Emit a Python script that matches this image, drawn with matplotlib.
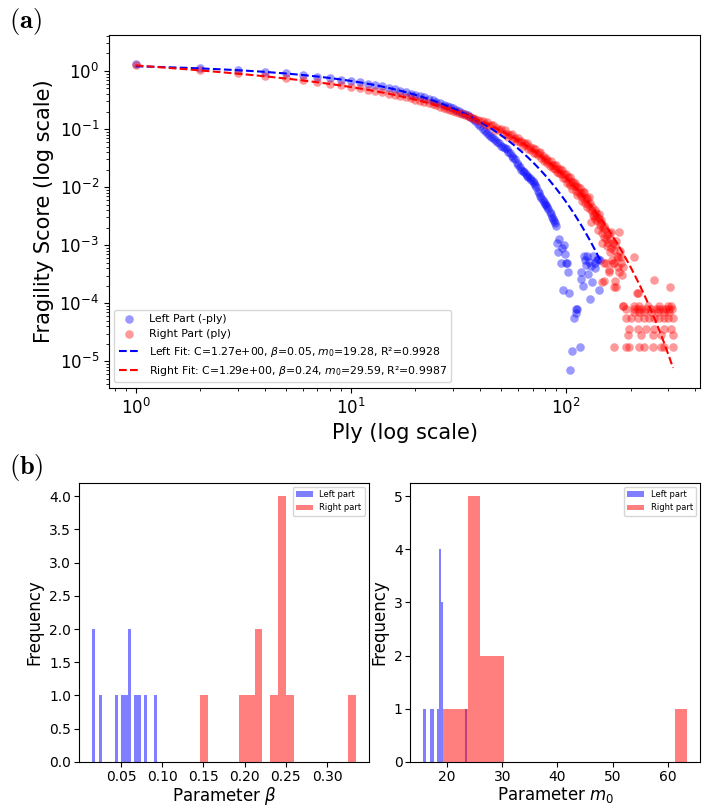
import numpy as np
import matplotlib
matplotlib.use("Agg")
import matplotlib.pyplot as plt

# ---------------- panel (a) data ----------------
# Left part (-ply): integer plies 1..90 (smooth part)
left_ply_main = np.arange(1, 91)
left_score_main = [
    1.30, 1.11, 1.03, 0.965, 0.905, 0.852, 0.800, 0.757, 0.712, 0.675,
    0.636, 0.603, 0.568, 0.540, 0.508, 0.483, 0.455, 0.433, 0.408, 0.389,
    0.366, 0.349, 0.328, 0.313, 0.294, 0.281, 0.264, 0.252, 0.237, 0.226,
    0.213, 0.203, 0.191, 0.181, 0.171, 0.162, 0.148, 0.135, 0.120, 0.112,
    0.102, 0.093, 0.085, 0.079, 0.072, 0.069, 0.065, 0.060, 0.058, 0.052,
    0.050, 0.047, 0.045, 0.041, 0.039, 0.035, 0.032, 0.030, 0.026, 0.024,
    0.022, 0.020, 0.019, 0.018, 0.0166, 0.0158, 0.0151, 0.0141, 0.0135, 0.0126,
    0.0120, 0.0110, 0.0100, 0.0087, 0.0078, 0.0069, 0.0065, 0.0060, 0.0056, 0.0052,
    0.0049, 0.0046, 0.0042, 0.0038, 0.0034, 0.0031, 0.0028, 0.0026, 0.0024, 0.0021,
]
# Left part tail (scattered)
left_ply_tail = [91, 92, 93, 95, 96, 97, 98, 99, 100, 101, 102, 103, 104, 107,
                 109, 111, 112, 113, 116, 117, 118, 120, 121, 123, 124, 126, 127,
                 128, 130, 131, 132, 134, 136, 137, 139, 141, 142, 144]
left_score_tail = [1.1e-3, 7.5e-4, 1.3e-3, 5.0e-4, 9.1e-4, 1.7e-4, 1.0e-3, 7.0e-4,
                   5.0e-4, 5.0e-4, 3.4e-4, 1.5e-4, 7.0e-6, 1.5e-5, 5.5e-5, 8.1e-5,
                   6.9e-5, 7.9e-5, 1.8e-5, 3.4e-4, 2.6e-4, 1.95e-4, 6.4e-4, 5.6e-4,
                   4.6e-4, 6.6e-4, 3.2e-4, 5.2e-4, 1.2e-4, 4.3e-4, 2.3e-4, 6.4e-4,
                   5.0e-4, 4.0e-4, 5.6e-4, 5.9e-4, 1.7e-4, 5.5e-4]

# Right part (ply): integer plies 1..130
right_ply_main = np.arange(1, 131)
right_score_main = [
    1.27, 1.04, 0.91, 0.82, 0.76, 0.70, 0.65, 0.605, 0.57, 0.535,
    0.505, 0.478, 0.452, 0.430, 0.408, 0.388, 0.370, 0.352, 0.336, 0.320,
    0.305, 0.292, 0.279, 0.267, 0.255, 0.244, 0.234, 0.224, 0.215, 0.206,
    0.197, 0.190, 0.182, 0.175, 0.168, 0.161, 0.155, 0.149, 0.143, 0.137,
    0.139, 0.124, 0.131, 0.112, 0.116, 0.119, 0.0975, 0.105, 0.0946, 0.0998,
    0.0855, 0.0946, 0.0830, 0.0728, 0.0804, 0.0830, 0.0679, 0.0702, 0.0615, 0.0697,
    0.0598, 0.0632, 0.0506, 0.0573, 0.0527, 0.0570, 0.0456, 0.0493, 0.0433, 0.0468,
    0.0384, 0.0455, 0.0391, 0.0352, 0.0380, 0.0402, 0.0322, 0.0348, 0.0279, 0.0309,
    0.0319, 0.0262, 0.0283, 0.0227, 0.0282, 0.0242, 0.0213, 0.0241, 0.0207, 0.0240,
    0.0179, 0.0203, 0.0175, 0.0203, 0.0170, 0.0197, 0.0141, 0.0167, 0.0144, 0.0167,
    0.0119, 0.0148, 0.0122, 0.0151, 0.0108, 0.0126, 0.0094, 0.0122, 0.0105, 0.0119,
    0.0085, 0.0104, 0.0074, 0.0101, 0.0079, 0.0098, 0.0070, 0.0080, 0.0058, 0.0081,
    0.0062, 0.0081, 0.0054, 0.0066, 0.0045, 0.0064, 0.0051, 0.0067, 0.0042, 0.0054,
]
# Right part, scattered region
right_ply_tail = [131, 132, 133, 134, 135, 136, 137, 138, 139, 140, 141, 142, 143, 144,
                  145, 146, 147, 148, 148, 149, 150, 150, 150, 151, 152, 153, 154, 155,
                  156, 157, 158, 158, 159, 160, 161, 162, 163, 164, 165, 166, 167, 167,
                  168, 169, 170, 171, 172, 173, 174, 175, 176, 177, 178, 180, 180, 182,
                  184, 185, 208, 214, 217, 257, 305,
                  # low rows
                  184, 208, 219, 241, 272, 299, 309,
                  190, 208, 217, 224, 236, 249, 263, 272, 283, 293, 302, 312,
                  208, 219, 231, 249, 269, 286, 302,
                  190, 201, 217, 231, 244, 257, 272, 286, 299, 315,
                  197, 217, 236, 257, 286, 309,
                  195, 224, 255, 277, 315,
                  167, 190, 197, 219, 231, 255, 277, 286, 315]
right_score_tail = [2.5e-3, 3.9e-3, 4.6e-3, 3.3e-3, 3.2e-3, 4.1e-3, 2.8e-3, 3.6e-3,
                    2.6e-3, 3.0e-3, 1.85e-3, 3.4e-3, 2.9e-3, 2.2e-3, 2.7e-3, 2.4e-3,
                    1.6e-3, 1.1e-3, 2.3e-4, 2.0e-3, 2.1e-3, 5.0e-4, 2.4e-4, 1.4e-3,
                    1.9e-3, 5.0e-4, 1.3e-3, 1.5e-3, 9.5e-4, 1.1e-3, 1.65e-3, 3.7e-4,
                    3.5e-4, 1.3e-3, 7.5e-4, 1.7e-3, 9.0e-4, 5.5e-4, 1.1e-3, 5.0e-4,
                    1.9e-4, 5.0e-4, 8.3e-4, 1.0e-3, 2.4e-4, 1.9e-4, 1.2e-3, 6.5e-4,
                    4.2e-4, 6.3e-4, 3.5e-4, 1.7e-3, 8.0e-4, 6.3e-4, 5.0e-4, 3.1e-4,
                    9.1e-5, 4.2e-4, 6.3e-4, 1.5e-4, 1.5e-4, 2.5e-4, 1.9e-4,
                    8.8e-5, 8.8e-5, 8.8e-5, 8.8e-5, 8.8e-5, 8.8e-5, 8.8e-5,
                    8.1e-5, 8.1e-5, 8.1e-5, 8.1e-5, 8.1e-5, 8.1e-5, 8.1e-5, 8.1e-5,
                    8.1e-5, 8.1e-5, 8.1e-5, 8.1e-5,
                    7.0e-5, 7.0e-5, 7.0e-5, 7.0e-5, 7.0e-5, 7.0e-5, 7.0e-5,
                    5.5e-5, 5.5e-5, 5.5e-5, 5.5e-5, 5.5e-5, 5.5e-5, 5.5e-5, 5.5e-5,
                    5.5e-5, 5.5e-5,
                    3.6e-5, 3.6e-5, 3.6e-5, 3.6e-5, 3.6e-5, 3.6e-5,
                    2.9e-5, 2.9e-5, 2.9e-5, 2.9e-5, 2.9e-5,
                    1.8e-5, 1.8e-5, 1.8e-5, 1.8e-5, 1.8e-5, 1.8e-5, 1.8e-5, 1.8e-5,
                    1.8e-5]

# Fit parameters (from legend)
left_fit = dict(C=1.27, beta=0.05, m0=19.28, r2=0.9928)
right_fit = dict(C=1.29, beta=0.24, m0=29.59, r2=0.9987)

# ---------------- panel (b) data ----------------
left_beta = [0.0148, 0.0170, 0.0245, 0.0440, 0.0520, 0.0560, 0.0595, 0.0605,
             0.0680, 0.0720, 0.0795, 0.0937]
right_beta = [0.146, 0.196, 0.205, 0.213, 0.216, 0.233, 0.242, 0.244, 0.246,
              0.248, 0.254, 0.335]
left_m0 = [15.7, 17.0, 17.5, 18.3, 18.6, 18.7, 18.75, 18.8, 19.0, 19.1, 19.2, 23.6]
right_m0 = [19.33, 22.5, 24.0, 24.5, 25.0, 25.3, 25.6, 26.5, 27.5, 29.0, 30.0, 63.5]
beta_ticks = [0.05, 0.10, 0.15, 0.20, 0.25, 0.30]


def model(m, p):
    return p["C"] * m ** (-p["beta"]) * np.exp(-m / p["m0"])


fig = plt.figure(figsize=(7.11, 8.08), dpi=100)

# ---------------- (a) ----------------
ax = fig.add_axes([0.153, 0.520, 0.832, 0.437])
lx = np.concatenate([left_ply_main, left_ply_tail])
ly = np.concatenate([left_score_main, left_score_tail])
rx = np.concatenate([right_ply_main, right_ply_tail])
ry = np.concatenate([right_score_main, right_score_tail])

ax.scatter(lx, ly, s=38, color="blue", alpha=0.4, linewidths=0, label="Left Part (-ply)")
ax.scatter(rx, ry, s=38, color="red", alpha=0.4, linewidths=0, label="Right Part (ply)")

mL = np.linspace(1, lx.max(), 400)
mR = np.linspace(1, rx.max(), 400)
ax.plot(mL, model(mL, left_fit), "--", color="blue", lw=1.5,
        label=(f"Left Fit: C={left_fit['C']:.2e}, $\\beta$={left_fit['beta']:.2f}, "
               f"$m_0$={left_fit['m0']:.2f}, R²={left_fit['r2']:.4f}"))
ax.plot(mR, model(mR, right_fit), "--", color="red", lw=1.5,
        label=(f"Right Fit: C={right_fit['C']:.2e}, $\\beta$={right_fit['beta']:.2f}, "
               f"$m_0$={right_fit['m0']:.2f}, R²={right_fit['r2']:.4f}"))
ax.set_xscale("log")
ax.set_yscale("log")
ax.set_xlim(0.75, 422)
ax.set_ylim(3.5e-6, 4.2)
ax.set_xlabel("Ply (log scale)", fontsize=15)
ax.set_ylabel("Fragility Score (log scale)", fontsize=15)
ax.tick_params(labelsize=12)
ax.legend(loc="lower left", fontsize=7.8)

# ---------------- (b) ----------------
ax1 = fig.add_axes([0.111, 0.057, 0.408, 0.3455])
ax1.hist(left_beta, bins=20, color="blue", alpha=0.5, label="Left part")
ax1.hist(right_beta, bins=20, color="red", alpha=0.5, label="Right part")
ax1.set_xticks(beta_ticks)
ax1.set_xlabel("Parameter $\\beta$", fontsize=12, labelpad=1)
ax1.set_ylabel("Frequency", fontsize=12)
ax1.tick_params(labelsize=10, pad=2)
ax1.legend(loc="upper right", fontsize=6)

ax2 = fig.add_axes([0.577, 0.057, 0.408, 0.3455])
ax2.hist(left_m0, bins=20, color="blue", alpha=0.5, label="Left part")
ax2.hist(right_m0, bins=20, color="red", alpha=0.5, label="Right part")
ax2.set_xlabel("Parameter $m_0$", fontsize=12, labelpad=1)
ax2.set_ylabel("Frequency", fontsize=12)
ax2.tick_params(labelsize=10, pad=2)
ax2.legend(loc="upper right", fontsize=6)

fig.text(0.012, 0.993, r"$\mathbf{(a)}$", math_fontfamily="cm", fontsize=19, va="top")
fig.text(0.012, 0.440, r"$\mathbf{(b)}$", math_fontfamily="cm", fontsize=19, va="top")

fig.savefig("out.png", dpi=100)
